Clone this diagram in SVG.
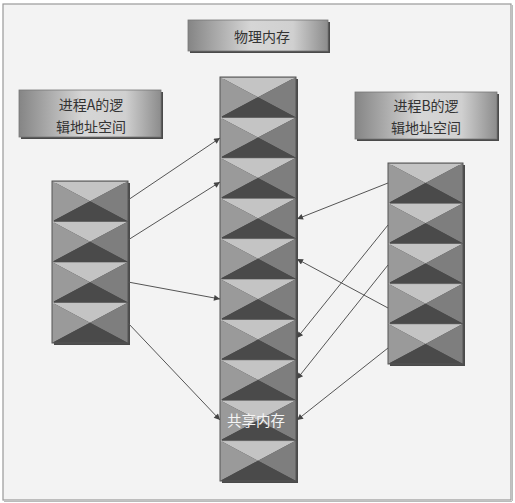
<svg xmlns="http://www.w3.org/2000/svg" xmlns:xlink="http://www.w3.org/1999/xlink" width="515" height="503" viewBox="0 0 515 503">
<style>
.lbl{font-family:"Noto Sans CJK SC","Noto Sans",sans-serif;font-size:14px;fill:#333;text-anchor:middle;dominant-baseline:central}
.shared{font-family:"Noto Sans CJK SC","Noto Sans",sans-serif;font-size:14.5px;fill:#f4f4f4;text-anchor:middle;dominant-baseline:central}
.conn{stroke:#555;stroke-width:1;fill:none;marker-end:url(#arr)}
.shadow{fill:#4a4a4a}
.box{fill:url(#grad);stroke:#777;stroke-width:0.8}
.col{fill:none;stroke:#555;stroke-width:1}
</style>
<defs>
<linearGradient id="grad" x1="0" y1="0" x2="1" y2="0">
<stop offset="0" stop-color="#858585"/>
<stop offset="0.45" stop-color="#d6d6d6"/>
<stop offset="0.75" stop-color="#d0d0d0"/>
<stop offset="1" stop-color="#8c8c8c"/>
</linearGradient>
<marker id="arr" viewBox="0 0 10 10" refX="10" refY="5" markerWidth="8" markerHeight="6" markerUnits="userSpaceOnUse" orient="auto">
<path d="M0,0 L10,5 L0,10 Z" fill="#444"/>
</marker>
<symbol id="cell" viewBox="0 0 76 40" preserveAspectRatio="none">
<polygon points="0,0 76,0 38,20" fill="#c4c4c4"/>
<polygon points="0,0 38,20 0,40" fill="#9a9a9a"/>
<polygon points="76,0 76,40 38,20" fill="#7e7e7e"/>
<polygon points="0,40 38,20 76,40" fill="#4a4a4a"/>
<line x1="0" y1="0" x2="76" y2="0" stroke="#666" stroke-width="0.8"/>
</symbol>
</defs>
<rect x="0" y="0" width="515" height="503" fill="#fff"/>
<rect x="3" y="4" width="508" height="496" fill="#f3f3f3" stroke="#999" stroke-width="1.2"/>
<line x1="512.5" y1="5" x2="512.5" y2="501" stroke="#bbb" stroke-width="1"/>
<line x1="4" y1="501.5" x2="512" y2="501.5" stroke="#bbb" stroke-width="1"/>

<g id="label-physical">
<rect x="190" y="22" width="140" height="31" class="shadow"/>
<rect x="188" y="20" width="140" height="31" class="box"/>
<text x="262" y="36" class="lbl">物理内存</text>
</g>

<g id="label-a">
<rect x="21" y="92" width="142" height="47" class="shadow"/>
<rect x="19" y="90" width="142" height="47" class="box"/>
<text x="91" y="104" class="lbl">进程A的逻</text>
<text x="91" y="126" class="lbl">辑地址空间</text>
</g>

<g id="label-b">
<rect x="357" y="94" width="142" height="47" class="shadow"/>
<rect x="355" y="92" width="142" height="47" class="box"/>
<text x="426" y="105" class="lbl">进程B的逻</text>
<text x="426" y="127" class="lbl">辑地址空间</text>
</g>

<g id="physical-memory">
<rect x="222" y="79" width="76" height="404" class="shadow"/>
<use xlink:href="#cell" x="220" y="77" width="76" height="40.4"/>
<use xlink:href="#cell" x="220" y="117.4" width="76" height="40.4"/>
<use xlink:href="#cell" x="220" y="157.8" width="76" height="40.4"/>
<use xlink:href="#cell" x="220" y="198.2" width="76" height="40.4"/>
<use xlink:href="#cell" x="220" y="238.6" width="76" height="40.4"/>
<use xlink:href="#cell" x="220" y="279" width="76" height="40.4"/>
<use xlink:href="#cell" x="220" y="319.4" width="76" height="40.4"/>
<use xlink:href="#cell" x="220" y="359.8" width="76" height="40.4"/>
<use xlink:href="#cell" x="220" y="400.2" width="76" height="40.4"/>
<use xlink:href="#cell" x="220" y="440.6" width="76" height="40.4"/>
<rect x="220" y="77" width="76" height="404" class="col"/>
<text x="256" y="419" class="shared">共享内存</text>
</g>

<g id="process-a">
<rect x="54" y="183" width="76" height="162" class="shadow"/>
<use xlink:href="#cell" x="52" y="181" width="76" height="40.5"/>
<use xlink:href="#cell" x="52" y="221.5" width="76" height="40.5"/>
<use xlink:href="#cell" x="52" y="262" width="76" height="40.5"/>
<use xlink:href="#cell" x="52" y="302.5" width="76" height="40.5"/>
<rect x="52" y="181" width="76" height="162" class="col"/>
</g>

<g id="process-b">
<rect x="390" y="165" width="75" height="201" class="shadow"/>
<use xlink:href="#cell" x="388" y="163" width="75" height="40.2"/>
<use xlink:href="#cell" x="388" y="203.2" width="75" height="40.2"/>
<use xlink:href="#cell" x="388" y="243.4" width="75" height="40.2"/>
<use xlink:href="#cell" x="388" y="283.6" width="75" height="40.2"/>
<use xlink:href="#cell" x="388" y="323.8" width="75" height="40.2"/>
<rect x="388" y="163" width="75" height="201" class="col"/>
</g>

<g id="connectors">
<line x1="128" y1="200" x2="220" y2="138" class="conn"/>
<line x1="128" y1="240" x2="220" y2="182" class="conn"/>
<line x1="128" y1="282" x2="220" y2="299" class="conn"/>
<line x1="128" y1="323" x2="220" y2="420" class="conn"/>
<line x1="388" y1="183" x2="297" y2="219" class="conn"/>
<line x1="388" y1="225" x2="297" y2="338" class="conn"/>
<line x1="388" y1="265" x2="297" y2="379" class="conn"/>
<line x1="388" y1="308" x2="297" y2="259" class="conn"/>
<line x1="388" y1="348" x2="297" y2="420" class="conn"/>
</g>
</svg>
